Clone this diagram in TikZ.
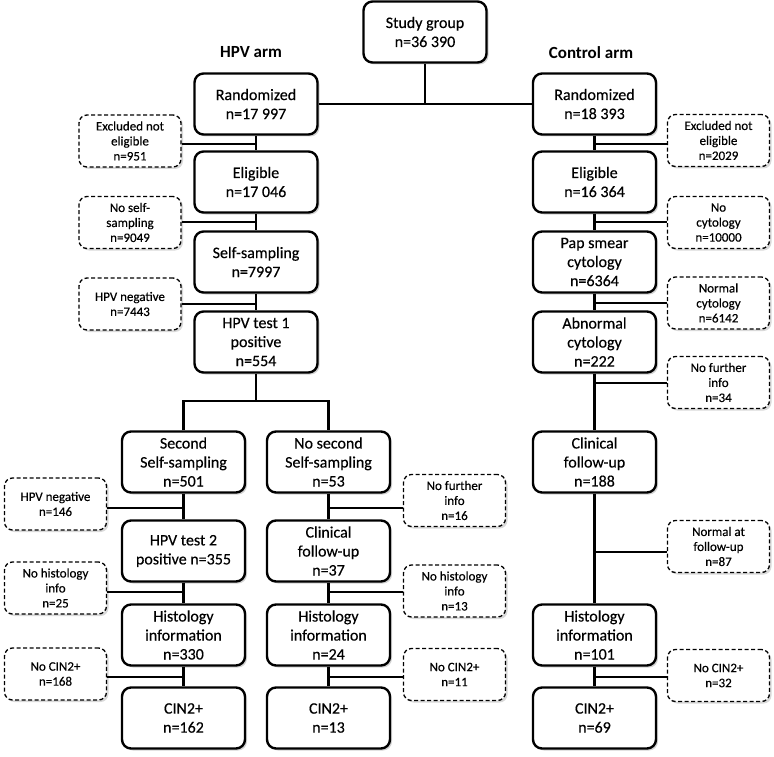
\documentclass[tikz,border=0pt]{standalone}
\usepackage{fontspec}
\setmainfont{Carlito}[UprightFeatures={FakeBold=0.35}]
\usetikzlibrary{shadows}
\begin{document}
\begin{tikzpicture}[x=1pt,y=-1pt,
  mainbox/.style={draw, line width=2.4pt, rounded corners=9pt, fill=white,
    minimum width=123pt, minimum height=61pt, align=center, inner sep=1pt,
    font=\fontsize{16}{19}\selectfont,
    drop shadow={shadow xshift=2pt, shadow yshift=-2pt, opacity=0.35}},
  sidebox/.style={draw, line width=1.3pt, dash pattern=on 4pt off 2.5pt,
    rounded corners=8pt, fill=white,
    minimum width=102pt, minimum height=52pt, align=center, inner sep=1pt,
    font=\fontsize{13}{15}\selectfont,
    drop shadow={shadow xshift=2pt, shadow yshift=-2pt, opacity=0.3}},
  armlabel/.style={font=\fontsize{17}{20}\selectfont\bfseries},
  conn/.style={line width=2.4pt}]
\useasboundingbox (0,0) rectangle (774,757);

\coordinate (topj) at (425,104);
\coordinate (split) at (256,401);

% ---- main boxes ----
\node[mainbox] (study) at (425,32) {Study group\\n=36 390};
\node[armlabel] (hpvarm) at (251,52) {HPV arm};
\node[armlabel] (ctrlarm) at (591,53) {Control arm};

\node[mainbox] (randH) at (256,104) {Randomized\\n=17 997};
\node[mainbox] (eligH) at (256,182) {Eligible\\n=17 046};
\node[mainbox] (selfH) at (256,262) {Self-sampling\\n=7997};
\node[mainbox] (hpv1) at (256,342) {HPV test 1\\positive\\n=554};

\node[mainbox] (second) at (183.5,462) {Second\\Self-sampling\\n=501};
\node[mainbox] (nosecond) at (328.5,462) {No second\\Self-sampling\\n=53};
\node[mainbox] (hpv2) at (183.5,551) {HPV test 2\\positive n=355};
\node[mainbox] (clin37) at (328.5,551) {Clinical\\follow-up\\n=37};
\node[mainbox] (hist330) at (183.5,635) {Histology\\information\\n=330};
\node[mainbox] (hist24) at (328.5,635) {Histology\\information\\n=24};
\node[mainbox] (cin162) at (183.5,718) {CIN2+\\n=162};
\node[mainbox] (cin13) at (328.5,718) {CIN2+\\n=13};

\node[mainbox] (randC) at (594.5,104) {Randomized\\n=18 393};
\node[mainbox] (eligC) at (594.5,182) {Eligible\\n=16 364};
\node[mainbox] (pap) at (594.5,262) {Pap smear\\cytology\\n=6364};
\node[mainbox] (abn) at (594.5,342) {Abnormal\\cytology\\n=222};
\node[mainbox] (clin188) at (594.5,462) {Clinical\\follow-up\\n=188};
\node[mainbox] (hist101) at (594.5,635) {Histology\\information\\n=101};
\node[mainbox] (cin69) at (594.5,718) {CIN2+\\n=69};

% ---- side boxes ----
\node[sidebox] (exclH) at (130,141) {Excluded not\\eligible\\n=951};
\node[sidebox] (noselfH) at (130,222.5) {No self-\\sampling\\n=9049};
\node[sidebox] (negH) at (130,304) {HPV negative\\n=7443};
\node[sidebox] (neg146) at (55.5,504) {HPV negative\\n=146};
\node[sidebox] (nohist25) at (55.5,588) {No histology\\info\\n=25};
\node[sidebox] (nocin168) at (55.5,674) {No CIN2+\\n=168};
\node[sidebox] (nf16) at (454.5,500.5) {No further\\info\\n=16};
\node[sidebox] (nohist13) at (454.5,591) {No histology\\info\\n=13};
\node[sidebox] (nocin11) at (454.5,674.5) {No CIN2+\\n=11};

\node[sidebox] (exclC) at (718.5,140.5) {Excluded not\\eligible\\n=2029};
\node[sidebox] (nocyt) at (718.5,222.5) {No\\cytology\\n=10000};
\node[sidebox] (normcyt) at (718.5,303) {Normal\\cytology\\n=6142};
\node[sidebox] (nf34) at (718.5,382.5) {No further\\info\\n=34};
\node[sidebox] (normfu) at (718.5,546.5) {Normal at\\follow-up\\n=87};
\node[sidebox] (nocin32) at (718.5,675.5) {No CIN2+\\n=32};

% ---- connectors ----
\draw[conn] (study.south) -- (topj);
\draw[conn] (randH.east) -- (randC.west);

\draw[conn] (randH.south) -- (eligH.north);
\draw[conn] (eligH.south) -- (selfH.north);
\draw[conn] (selfH.south) -- (hpv1.north);
\draw[conn] (hpv1.south) -- (split);
\draw[conn] (second.north) |- (split) -| (nosecond.north);
\draw[conn] (second.south) -- (hpv2.north);
\draw[conn] (hpv2.south) -- (hist330.north);
\draw[conn] (hist330.south) -- (cin162.north);
\draw[conn] (nosecond.south) -- (clin37.north);
\draw[conn] (clin37.south) -- (hist24.north);
\draw[conn] (hist24.south) -- (cin13.north);

\draw[conn] (randC.south) -- (eligC.north);
\draw[conn] (eligC.south) -- (pap.north);
\draw[conn] (pap.south) -- (abn.north);
\draw[conn] (abn.south) -- (clin188.north);
\draw[conn] (clin188.south) -- (hist101.north);
\draw[conn] (hist101.south) -- (cin69.north);

% side connectors
\draw[conn] (exclH.east |- 0,144) -- (randH.south |- 0,144);
\draw[conn] (noselfH.east |- 0,222) -- (eligH.south |- 0,222);
\draw[conn] (negH.east |- 0,304) -- (selfH.south |- 0,304);
\draw[conn] (neg146.east |- 0,508) -- (second.south |- 0,508);
\draw[conn] (nohist25.east |- 0,592) -- (hpv2.south |- 0,592);
\draw[conn] (nocin168.east |- 0,677) -- (hist330.south |- 0,677);
\draw[conn] (nf16.west |- 0,508) -- (nosecond.south |- 0,508);
\draw[conn] (nohist13.west |- 0,592) -- (clin37.south |- 0,592);
\draw[conn] (nocin11.west |- 0,677) -- (hist24.south |- 0,677);

\draw[conn] (exclC.west |- 0,144) -- (randC.south |- 0,144);
\draw[conn] (nocyt.west |- 0,222) -- (eligC.south |- 0,222);
\draw[conn] (normcyt.west |- 0,303) -- (pap.south |- 0,303);
\draw[conn] (nf34.west |- 0,383) -- (abn.south |- 0,383);
\draw[conn] (normfu.west |- 0,552) -- (clin188.south |- 0,552);
\draw[conn] (nocin32.west |- 0,677) -- (hist101.south |- 0,677);
\end{tikzpicture}
\end{document}
